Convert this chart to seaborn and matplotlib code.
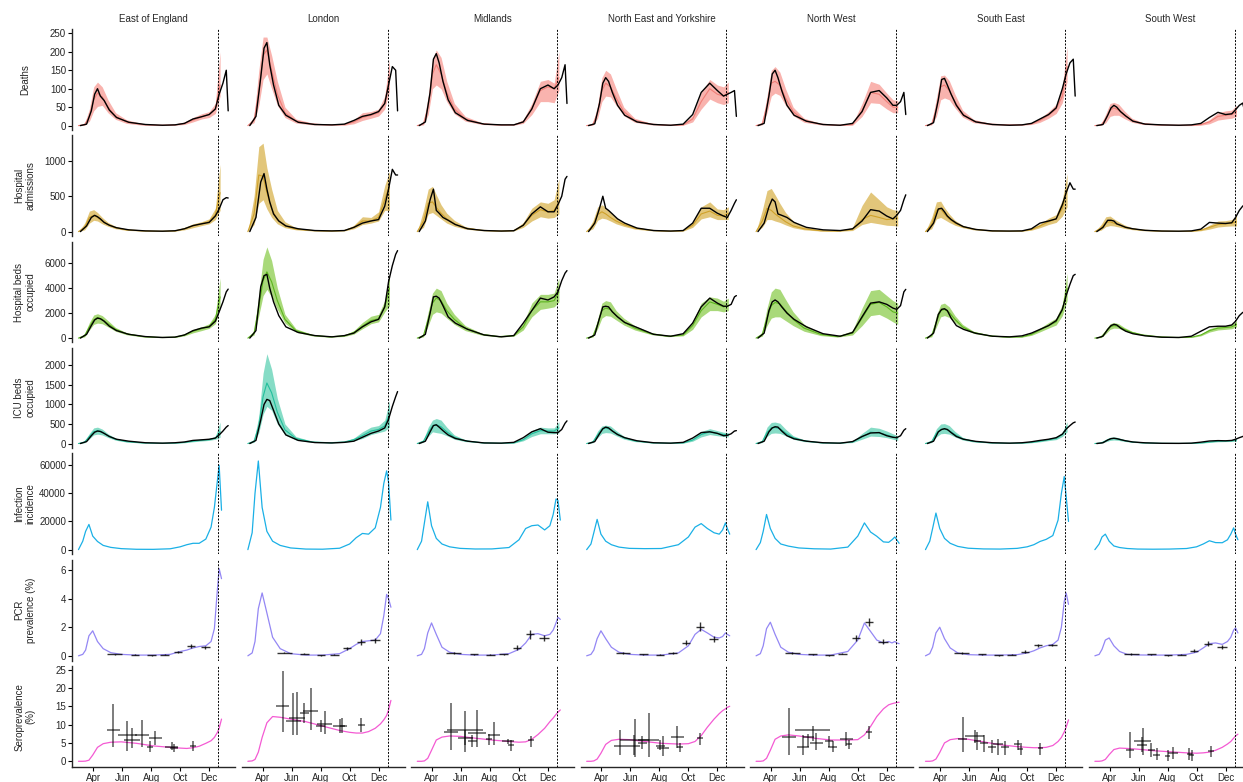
import pandas as pd
import matplotlib
matplotlib.use("Agg")
import matplotlib.pyplot as plt
import matplotlib.dates as mdates
import seaborn as sns

REGIONS = ["East of England", "London", "Midlands", "North East and Yorkshire",
           "North West", "South East", "South West"]

ROW_LABELS = ["Deaths", "Hospital\nadmissions", "Hospital beds\noccupied",
              "ICU beds\noccupied", "Infection\nincidence", "PCR\nprevalence (%)",
              "Seroprevalence\n(%)"]

Y_TICKS = [[0, 50, 100, 150, 200, 250], [0, 500, 1000], [0, 2000, 4000, 6000],
           [0, 500, 1000, 1500, 2000], [0, 20000, 40000, 60000], [0, 2, 4, 6],
           [0, 5, 10, 15, 20, 25]]

CUTOFF = "2020-12-20"

# dates of the model knots (hospital rows), observed series and infection rows
HOSP_DATES = pd.to_datetime([
    "2020-03-01", "2020-03-14", "2020-03-24", "2020-04-02", "2020-04-10", "2020-04-20",
    "2020-05-02", "2020-05-18", "2020-06-10", "2020-07-15", "2020-08-20", "2020-09-20",
    "2020-10-10", "2020-10-28", "2020-11-15", "2020-12-01", "2020-12-14", "2020-12-24"])
OBS_DATES = pd.to_datetime([
    "2020-03-05", "2020-03-18", "2020-03-28", "2020-04-04", "2020-04-10", "2020-04-16",
    "2020-04-24", "2020-05-05", "2020-05-20", "2020-06-15", "2020-07-20", "2020-08-25",
    "2020-09-20", "2020-10-10", "2020-10-28", "2020-11-15", "2020-12-01", "2020-12-14",
    "2020-12-22", "2020-12-30", "2021-01-06", "2021-01-10"])
INF_DATES = pd.to_datetime([
    "2020-03-01", "2020-03-10", "2020-03-16", "2020-03-23", "2020-03-31", "2020-04-10",
    "2020-04-22", "2020-05-08", "2020-05-30", "2020-07-01", "2020-08-05", "2020-09-10",
    "2020-10-01", "2020-10-15", "2020-10-28", "2020-11-10", "2020-11-24", "2020-12-05",
    "2020-12-12", "2020-12-18", "2020-12-22", "2020-12-27"])

# one list per region, in REGIONS order
DEATHS_MED = [
    [0, 3, 25, 70, 88, 78, 50, 25, 10, 3, 1, 2, 6, 15, 24, 30, 45, 110],
    [0, 15, 90, 190, 205, 150, 85, 35, 12, 4, 2, 3, 10, 22, 28, 35, 60, 130],
    [0, 5, 50, 140, 165, 140, 90, 45, 18, 5, 2, 2, 10, 45, 95, 105, 100, 130],
    [0, 3, 35, 95, 115, 105, 75, 38, 14, 4, 1, 2, 18, 65, 100, 85, 80, 90],
    [0, 5, 55, 115, 120, 110, 75, 38, 14, 4, 1, 3, 40, 90, 85, 65, 50, 50],
    [0, 4, 45, 105, 110, 95, 65, 32, 12, 4, 2, 2, 5, 14, 28, 45, 80, 160],
    [0, 2, 18, 42, 48, 42, 28, 14, 5, 2, 1, 1, 3, 10, 25, 28, 30, 38]]
DEATHS_LO = [
    [0, 1, 12, 40, 52, 55, 35, 17, 6, 1, 0, 1, 3, 10, 18, 22, 33, 80],
    [0, 8, 55, 125, 140, 100, 55, 22, 7, 2, 1, 1, 5, 14, 20, 26, 45, 95],
    [0, 2, 30, 100, 110, 100, 65, 32, 12, 3, 1, 1, 6, 30, 65, 65, 62, 95],
    [0, 1, 20, 65, 80, 78, 55, 27, 9, 2, 0, 1, 10, 45, 72, 62, 57, 62],
    [0, 2, 35, 80, 88, 82, 55, 27, 9, 2, 0, 1, 25, 62, 60, 45, 35, 35],
    [0, 2, 25, 70, 75, 70, 48, 23, 8, 2, 1, 1, 3, 9, 20, 33, 62, 120],
    [0, 1, 8, 25, 28, 28, 19, 9, 3, 1, 0, 0, 1, 5, 15, 18, 20, 25]]
DEATHS_HI = [
    [0, 6, 45, 105, 118, 105, 70, 35, 16, 5, 2, 4, 10, 22, 32, 38, 60, 200],
    [0, 25, 150, 240, 240, 190, 120, 50, 18, 7, 3, 5, 16, 35, 38, 45, 80, 180],
    [0, 9, 80, 180, 205, 185, 120, 60, 25, 8, 3, 4, 16, 60, 120, 125, 115, 200],
    [0, 6, 55, 130, 150, 140, 100, 50, 20, 6, 2, 4, 28, 90, 125, 110, 105, 118],
    [0, 9, 80, 150, 160, 145, 100, 50, 20, 6, 2, 5, 60, 120, 112, 88, 70, 68],
    [0, 8, 75, 135, 137, 122, 85, 42, 17, 6, 3, 4, 8, 20, 38, 58, 105, 215],
    [0, 4, 32, 60, 63, 58, 40, 20, 8, 3, 1, 2, 6, 16, 35, 40, 42, 55]]
DEATHS_OBS = [
    [0, 4, 40, 85, 100, 80, 68, 42, 22, 9, 3, 1, 2, 6, 18, 24, 30, 45, 85, 115, 150, 40],
    [0, 25, 130, 210, 225, 165, 110, 55, 28, 9, 3, 2, 4, 14, 25, 30, 38, 60, 110, 160, 150, 40],
    [0, 10, 90, 180, 195, 170, 120, 70, 35, 14, 4, 2, 2, 10, 45, 100, 110, 100, 110, 130, 165, 60],
    [0, 5, 60, 115, 130, 120, 90, 55, 28, 10, 3, 1, 4, 30, 90, 115, 95, 80, 85, 90, 95, 25],
    [0, 6, 80, 140, 150, 130, 95, 55, 28, 12, 3, 1, 6, 38, 90, 95, 75, 55, 55, 65, 90, 30],
    [0, 8, 70, 125, 128, 110, 85, 55, 28, 10, 3, 1, 2, 6, 18, 30, 48, 100, 140, 170, 180, 80],
    [0, 3, 28, 48, 55, 50, 38, 26, 12, 4, 2, 1, 2, 6, 22, 36, 30, 32, 43, 55, 61, 40]]

ADM_MED = [
    [0, 60, 200, 230, 200, 150, 100, 55, 25, 10, 5, 10, 40, 80, 110, 140, 240, 550],
    [0, 250, 800, 780, 550, 320, 170, 80, 35, 15, 8, 15, 60, 150, 150, 200, 450, 650],
    [0, 150, 400, 420, 340, 260, 180, 110, 50, 18, 8, 15, 90, 230, 310, 280, 300, 420],
    [0, 80, 240, 280, 250, 200, 150, 100, 50, 18, 6, 12, 90, 250, 290, 230, 220, 260],
    [0, 150, 330, 300, 250, 200, 140, 80, 40, 12, 6, 30, 170, 230, 200, 170, 180, 190],
    [0, 100, 300, 320, 250, 180, 120, 70, 35, 12, 6, 8, 30, 80, 140, 180, 330, 600],
    [0, 50, 130, 140, 120, 95, 65, 40, 20, 8, 4, 5, 20, 60, 100, 110, 120, 140]]
ADM_LO = [
    [0, 25, 120, 160, 150, 110, 75, 40, 18, 7, 3, 6, 25, 55, 85, 110, 170, 300],
    [0, 100, 400, 450, 320, 200, 110, 55, 25, 10, 5, 10, 40, 100, 120, 150, 300, 300],
    [0, 60, 250, 270, 230, 180, 120, 75, 35, 12, 5, 10, 60, 150, 210, 190, 200, 250],
    [0, 40, 160, 190, 180, 150, 110, 75, 35, 12, 4, 8, 60, 180, 210, 170, 170, 170],
    [0, 60, 170, 170, 150, 130, 95, 55, 25, 8, 4, 15, 100, 130, 110, 90, 85, 80],
    [0, 40, 180, 200, 170, 130, 90, 55, 25, 8, 4, 5, 20, 55, 100, 130, 220, 350],
    [0, 20, 70, 85, 80, 65, 45, 28, 13, 5, 2, 3, 12, 35, 65, 75, 80, 80]]
ADM_HI = [
    [0, 120, 290, 310, 270, 200, 130, 75, 35, 14, 8, 15, 60, 110, 140, 180, 330, 950],
    [0, 500, 1200, 1250, 900, 600, 300, 140, 55, 22, 12, 22, 90, 210, 200, 280, 650, 850],
    [0, 300, 600, 640, 520, 380, 260, 160, 70, 25, 12, 22, 130, 330, 420, 400, 450, 750],
    [0, 150, 350, 380, 340, 270, 200, 135, 65, 25, 9, 18, 130, 350, 420, 320, 310, 350],
    [0, 300, 580, 610, 520, 400, 270, 150, 70, 20, 9, 60, 370, 560, 450, 350, 310, 300],
    [0, 200, 420, 430, 340, 250, 160, 90, 45, 16, 9, 12, 45, 110, 190, 240, 450, 820],
    [0, 100, 210, 220, 180, 140, 95, 55, 28, 11, 6, 8, 30, 90, 150, 155, 170, 230]]
ADM_OBS = [
    [0, 80, 200, 230, 210, 180, 130, 90, 55, 25, 10, 6, 12, 40, 85, 110, 130, 220, 320, 450, 480, 475],
    [0, 200, 700, 820, 600, 420, 250, 150, 80, 40, 15, 10, 15, 60, 120, 150, 170, 360, 600, 880, 800, 800],
    [0, 150, 450, 600, 300, 260, 200, 160, 100, 40, 15, 8, 12, 90, 250, 350, 280, 280, 380, 500, 740, 780],
    [0, 120, 330, 500, 330, 300, 250, 180, 120, 50, 15, 8, 15, 120, 330, 330, 260, 220, 200, 300, 400, 450],
    [0, 120, 350, 460, 420, 250, 230, 200, 130, 60, 25, 15, 40, 150, 310, 290, 220, 180, 230, 300, 450, 520],
    [0, 120, 320, 330, 280, 220, 170, 120, 70, 30, 10, 8, 10, 40, 120, 150, 180, 380, 550, 690, 600, 600],
    [0, 60, 160, 160, 150, 110, 90, 60, 40, 18, 8, 6, 10, 35, 130, 120, 115, 125, 200, 300, 360, 380]]

BEDS_MED = [
    [0, 200, 900, 1450, 1650, 1500, 1150, 700, 350, 120, 50, 70, 250, 550, 750, 950, 1500, 3300],
    [0, 400, 2500, 4600, 5300, 4500, 3000, 1500, 600, 220, 100, 180, 450, 950, 1400, 1550, 2500, 4000],
    [0, 200, 1500, 2800, 3200, 3000, 2200, 1500, 800, 300, 120, 200, 900, 2200, 2900, 2900, 3000, 3700],
    [0, 150, 1100, 2200, 2400, 2300, 1800, 1300, 800, 350, 150, 250, 1000, 2200, 2900, 2700, 2500, 2600],
    [0, 300, 1600, 2600, 2850, 2750, 2200, 1500, 800, 300, 120, 400, 1600, 2700, 2850, 2500, 2100, 2000],
    [0, 200, 1300, 2200, 2300, 2050, 1500, 900, 450, 180, 80, 100, 300, 650, 1000, 1300, 2200, 4000],
    [0, 80, 500, 900, 1000, 950, 700, 450, 250, 100, 50, 70, 250, 600, 800, 850, 900, 1100]]
BEDS_LO = [
    [0, 100, 650, 1100, 1200, 1150, 900, 550, 270, 90, 35, 50, 180, 420, 600, 780, 1150, 2400],
    [0, 250, 1800, 3400, 3900, 3300, 2300, 1200, 480, 170, 70, 130, 320, 750, 1150, 1300, 2100, 2600],
    [0, 100, 1000, 1900, 2100, 2000, 1600, 1100, 600, 230, 90, 150, 650, 1700, 2300, 2400, 2500, 2900],
    [0, 80, 750, 1600, 1800, 1750, 1450, 1050, 650, 280, 110, 180, 700, 1700, 2200, 2200, 2100, 2200],
    [0, 150, 1000, 1600, 1700, 1700, 1400, 1000, 550, 200, 80, 250, 1000, 1800, 1900, 1600, 1300, 1100],
    [0, 100, 900, 1700, 1800, 1650, 1250, 750, 380, 150, 60, 75, 220, 500, 800, 1050, 1800, 3000],
    [0, 40, 350, 700, 800, 780, 580, 380, 210, 80, 35, 50, 180, 480, 650, 700, 750, 900]]
BEDS_HI = [
    [0, 350, 1250, 1850, 1950, 1800, 1400, 850, 430, 150, 70, 100, 330, 700, 900, 1150, 1900, 4800],
    [0, 600, 3500, 6300, 7300, 6200, 4000, 1900, 750, 280, 130, 240, 600, 1250, 1750, 1900, 3000, 5100],
    [0, 350, 2100, 3600, 4000, 3800, 2800, 1900, 1000, 380, 150, 260, 1200, 2800, 3500, 3500, 3600, 4800],
    [0, 250, 1500, 2800, 3000, 2900, 2200, 1600, 1000, 430, 190, 330, 1350, 2800, 3300, 3200, 2950, 3200],
    [0, 500, 2400, 3700, 4000, 3900, 3100, 2100, 1100, 420, 170, 600, 2400, 3800, 3900, 3400, 3000, 2800],
    [0, 350, 1800, 2700, 2800, 2500, 1800, 1100, 550, 220, 100, 130, 400, 800, 1250, 1600, 2700, 5200],
    [0, 130, 700, 1150, 1250, 1150, 850, 550, 300, 130, 65, 90, 320, 750, 950, 1000, 1100, 1400]]
BEDS_OBS = [
    [0, 300, 1000, 1450, 1600, 1550, 1350, 950, 600, 300, 120, 50, 80, 250, 600, 800, 900, 1350, 2100, 2900, 3700, 3920],
    [0, 600, 4100, 5000, 5100, 4000, 2900, 1800, 900, 450, 200, 100, 200, 400, 900, 1300, 1500, 2500, 4500, 5800, 6700, 7000],
    [0, 300, 2000, 3300, 3350, 3200, 2600, 1700, 1200, 700, 250, 100, 200, 1200, 2200, 3200, 3050, 3300, 3700, 4600, 5200, 5400],
    [0, 250, 1600, 2500, 2550, 2500, 2100, 1700, 1250, 850, 300, 150, 350, 1200, 2500, 3200, 2800, 2550, 2550, 2700, 3300, 3400],
    [0, 400, 2200, 2900, 3050, 2900, 2500, 2000, 1500, 900, 350, 150, 450, 1700, 2800, 2900, 2700, 2400, 2300, 2600, 3700, 3900],
    [0, 400, 1900, 2300, 2350, 2200, 1600, 1000, 700, 380, 150, 100, 180, 400, 700, 1000, 1400, 2300, 3400, 4300, 5000, 5100],
    [0, 150, 700, 1000, 1100, 1050, 800, 550, 350, 180, 70, 50, 150, 550, 900, 950, 950, 1050, 1350, 1800, 2050, 2100]]

ICU_MED = [
    [0, 40, 180, 300, 330, 290, 200, 110, 50, 15, 6, 10, 30, 60, 85, 100, 140, 300],
    [0, 60, 450, 1200, 1550, 1300, 800, 350, 130, 40, 20, 40, 100, 200, 320, 360, 450, 750],
    [0, 60, 280, 450, 480, 430, 300, 160, 70, 20, 8, 15, 100, 250, 330, 320, 320, 400],
    [0, 40, 220, 360, 400, 360, 260, 150, 70, 20, 8, 15, 90, 230, 300, 260, 230, 220],
    [0, 50, 280, 400, 410, 380, 270, 150, 70, 20, 8, 40, 170, 290, 270, 220, 170, 140],
    [0, 50, 260, 360, 370, 330, 230, 120, 55, 18, 7, 10, 30, 60, 100, 130, 230, 420],
    [0, 15, 70, 120, 130, 110, 75, 40, 18, 6, 3, 4, 15, 40, 60, 65, 70, 90]]
ICU_LO = [
    [0, 20, 120, 220, 240, 220, 155, 85, 38, 11, 4, 7, 20, 45, 65, 80, 110, 160],
    [0, 30, 280, 750, 950, 850, 500, 220, 90, 28, 14, 28, 70, 130, 230, 280, 320, 420],
    [0, 30, 180, 300, 280, 260, 200, 110, 50, 14, 5, 10, 70, 180, 250, 250, 250, 270],
    [0, 20, 150, 260, 280, 270, 200, 115, 50, 14, 5, 10, 60, 170, 230, 200, 180, 170],
    [0, 25, 180, 260, 270, 260, 200, 110, 50, 14, 5, 25, 110, 190, 180, 150, 110, 80],
    [0, 25, 170, 250, 260, 240, 170, 90, 40, 13, 5, 7, 20, 45, 75, 100, 180, 300],
    [0, 8, 45, 80, 90, 80, 55, 30, 13, 4, 2, 3, 10, 28, 45, 50, 52, 60]]
ICU_HI = [
    [0, 70, 260, 400, 420, 370, 250, 140, 65, 20, 8, 14, 42, 80, 110, 130, 180, 550],
    [0, 100, 700, 1800, 2300, 1900, 1150, 500, 180, 55, 28, 55, 140, 300, 420, 460, 600, 1100],
    [0, 100, 420, 600, 640, 600, 420, 220, 95, 28, 11, 22, 140, 330, 420, 400, 400, 560],
    [0, 70, 320, 450, 470, 450, 330, 190, 90, 28, 11, 22, 130, 310, 380, 330, 290, 280],
    [0, 90, 420, 540, 550, 520, 370, 200, 95, 28, 11, 60, 260, 420, 390, 320, 250, 200],
    [0, 90, 380, 500, 510, 460, 310, 160, 75, 25, 10, 14, 42, 80, 130, 170, 290, 560],
    [0, 25, 110, 160, 170, 150, 100, 55, 25, 8, 4, 6, 22, 55, 80, 85, 95, 130]]
ICU_OBS = [
    [0, 50, 200, 290, 320, 310, 260, 180, 110, 60, 20, 10, 20, 40, 80, 95, 110, 140, 220, 320, 420, 460],
    [0, 80, 600, 1000, 1130, 1100, 850, 500, 220, 80, 25, 15, 30, 60, 160, 260, 320, 400, 620, 950, 1200, 1330],
    [0, 60, 300, 460, 480, 420, 330, 220, 130, 60, 15, 10, 30, 150, 300, 380, 290, 280, 280, 360, 520, 580],
    [0, 50, 250, 380, 420, 400, 320, 230, 150, 70, 20, 10, 30, 140, 280, 300, 260, 200, 210, 250, 320, 330],
    [0, 60, 300, 400, 430, 420, 320, 200, 120, 60, 20, 10, 50, 180, 270, 280, 200, 160, 150, 200, 340, 380],
    [0, 60, 300, 360, 380, 360, 280, 180, 110, 55, 20, 10, 20, 45, 80, 110, 150, 240, 370, 460, 530, 550],
    [0, 20, 90, 125, 135, 125, 100, 70, 40, 18, 6, 4, 10, 35, 65, 75, 70, 80, 110, 150, 180, 200]]

INCIDENCE = [
    [0, 6000, 13000, 17900, 9600, 5800, 3000, 1600, 700, 250, 200, 600, 2000, 3500, 4500, 4500, 7500, 16000, 30000, 48000, 60000, 28000],
    [0, 12000, 40000, 63000, 30000, 13000, 6000, 3000, 1200, 400, 300, 1000, 4000, 8500, 11500, 11000, 15500, 30000, 47000, 56000, 48000, 21000],
    [0, 6000, 19000, 34000, 17000, 8000, 4000, 2000, 900, 450, 500, 1500, 7000, 15000, 17000, 17500, 14000, 17000, 25000, 36000, 35000, 21000],
    [0, 4000, 12000, 21500, 11000, 6000, 3500, 1800, 900, 700, 800, 3500, 9000, 16000, 18500, 15000, 12000, 11000, 14000, 19000, 15000, 11000],
    [0, 5000, 13000, 25000, 15000, 8000, 4000, 2500, 1200, 600, 400, 1800, 9600, 19000, 12500, 9500, 5500, 5200, 7000, 9000, 7000, 4500],
    [0, 6000, 15000, 26000, 15000, 8000, 4500, 2300, 1000, 500, 400, 900, 2000, 3500, 5800, 7300, 10000, 21000, 40000, 52000, 38000, 20000],
    [0, 4000, 9000, 11000, 6000, 2600, 1500, 800, 400, 300, 400, 800, 2000, 4000, 6300, 5000, 4900, 7000, 11000, 15500, 11000, 7000]]

PCR_PREV = [
    [0, 0.1, 0.4, 1.4, 1.75, 1.0, 0.5, 0.22, 0.1, 0.05, 0.05, 0.1, 0.3, 0.4, 0.55, 0.65, 0.7, 1.0, 1.9, 4.5, 6.1, 5.4],
    [0, 0.2, 1.0, 3.3, 4.4, 3.0, 1.3, 0.5, 0.15, 0.05, 0.05, 0.15, 0.5, 0.8, 1.0, 1.05, 1.1, 1.55, 2.8, 4.3, 4.0, 3.4],
    [0, 0.1, 0.5, 1.6, 2.3, 1.5, 0.6, 0.25, 0.1, 0.05, 0.05, 0.15, 0.45, 0.9, 1.5, 1.55, 1.4, 1.5, 1.8, 2.3, 2.7, 2.55],
    [0, 0.1, 0.4, 1.2, 1.75, 1.2, 0.6, 0.25, 0.1, 0.05, 0.05, 0.2, 0.7, 1.5, 1.85, 1.6, 1.3, 1.25, 1.35, 1.6, 1.5, 1.4],
    [0, 0.15, 0.7, 1.9, 2.35, 1.5, 0.6, 0.25, 0.1, 0.05, 0.05, 0.3, 1.1, 2.3, 1.7, 1.1, 0.9, 1.0, 0.9, 1.0, 0.9, 0.85],
    [0, 0.15, 0.6, 1.6, 2.0, 1.2, 0.55, 0.2, 0.08, 0.05, 0.05, 0.08, 0.2, 0.35, 0.55, 0.7, 0.8, 1.1, 2.0, 3.8, 4.4, 3.6],
    [0, 0.1, 0.45, 1.1, 1.25, 0.7, 0.3, 0.1, 0.06, 0.05, 0.05, 0.1, 0.25, 0.55, 0.85, 0.9, 0.8, 1.0, 1.3, 1.8, 1.95, 1.6]]

SERO_PREV = [
    [0, 0, 0.05, 0.3, 1.7, 3.8, 4.8, 5.2, 5.3, 4.9, 4.2, 3.8, 3.6, 3.5, 3.7, 4.1, 4.9, 5.6, 6.5, 7.8, 9.0, 11.5],
    [0, 0.1, 0.5, 2.5, 6.5, 10.5, 12.2, 12.0, 11.5, 10.8, 9.6, 8.4, 7.9, 7.7, 7.7, 8.1, 9.0, 10.2, 11.3, 12.5, 14.0, 16.6],
    [0, 0, 0.1, 0.8, 3.0, 5.8, 6.6, 6.9, 6.8, 6.3, 5.8, 5.4, 5.2, 5.3, 6.0, 7.3, 9.0, 10.8, 11.8, 12.8, 13.4, 14.0],
    [0, 0, 0.1, 0.6, 2.2, 4.6, 5.7, 6.0, 5.9, 5.4, 4.9, 4.7, 4.8, 5.4, 7.0, 9.3, 11.5, 13.0, 13.8, 14.3, 14.7, 15.0],
    [0, 0, 0.1, 0.8, 3.0, 6.0, 6.9, 7.2, 6.9, 6.3, 5.8, 5.8, 5.9, 7.2, 9.5, 12.2, 14.3, 15.4, 15.7, 15.9, 16.0, 16.1],
    [0, 0, 0.1, 0.6, 2.4, 5.0, 5.9, 6.2, 6.0, 5.3, 4.5, 4.0, 3.8, 3.7, 3.7, 3.8, 4.3, 5.4, 6.5, 8.0, 9.3, 11.3],
    [0, 0, 0.1, 0.5, 1.8, 3.2, 3.6, 3.5, 3.3, 2.9, 2.6, 2.3, 2.2, 2.3, 2.5, 3.0, 3.8, 4.7, 5.4, 6.3, 6.9, 7.4]]

# PCR survey rounds: sampling windows, estimates (%) and CI half-widths
PCR_START = pd.to_datetime(["2020-05-01", "2020-06-19", "2020-07-24", "2020-08-20",
                            "2020-09-18", "2020-10-16", "2020-11-13"])
PCR_END = pd.to_datetime(["2020-06-01", "2020-07-07", "2020-08-11", "2020-09-08",
                          "2020-10-05", "2020-11-02", "2020-12-03"])
PCR_OBS = [
    [0.12, 0.07, 0.05, 0.07, 0.3, 0.7, 0.6],
    [0.23, 0.16, 0.05, 0.09, 0.53, 0.97, 1.1],
    [0.19, 0.12, 0.07, 0.12, 0.58, 1.5, 1.23],
    [0.19, 0.12, 0.07, 0.19, 0.93, 2.04, 1.16],
    [0.19, 0.1, 0.05, 0.16, 1.23, 2.36, 1.0],
    [0.19, 0.1, 0.05, 0.09, 0.3, 0.74, 0.76],
    [0.12, 0.1, 0.05, 0.09, 0.35, 0.86, 0.6]]
PCR_ERR = [
    [0.04, 0.03, 0.03, 0.03, 0.07, 0.12, 0.1],
    [0.06, 0.05, 0.03, 0.04, 0.12, 0.18, 0.18],
    [0.05, 0.04, 0.03, 0.04, 0.15, 0.3, 0.2],
    [0.05, 0.04, 0.03, 0.05, 0.2, 0.3, 0.2],
    [0.05, 0.04, 0.03, 0.05, 0.2, 0.3, 0.15],
    [0.05, 0.04, 0.03, 0.04, 0.08, 0.12, 0.1],
    [0.05, 0.04, 0.03, 0.04, 0.1, 0.15, 0.15]]

# serology surveys: centre date, estimate, CI and half window (days)
SERO_DATES = [
    ["2020-05-13", "2020-06-12", "2020-06-22", "2020-07-12", "2020-07-30", "2020-08-10", "2020-09-13", "2020-09-18", "2020-10-28"],
    ["2020-05-13", "2020-06-05", "2020-06-12", "2020-06-28", "2020-07-11", "2020-08-01", "2020-08-10", "2020-09-11", "2020-09-16", "2020-10-26"],
    ["2020-05-11", "2020-06-09", "2020-06-10", "2020-06-25", "2020-07-05", "2020-07-30", "2020-08-10", "2020-09-08", "2020-09-14", "2020-10-26"],
    ["2020-05-11", "2020-06-10", "2020-06-08", "2020-06-26", "2020-07-10", "2020-08-03", "2020-08-09", "2020-09-08", "2020-09-13", "2020-10-25"],
    ["2020-05-10", "2020-06-08", "2020-06-19", "2020-06-28", "2020-07-06", "2020-08-01", "2020-08-09", "2020-09-07", "2020-09-12", "2020-10-25"],
    ["2020-05-18", "2020-06-13", "2020-06-18", "2020-07-02", "2020-07-19", "2020-08-01", "2020-08-15", "2020-09-12", "2020-09-17", "2020-10-29"],
    ["2020-05-14", "2020-06-10", "2020-06-08", "2020-06-28", "2020-07-09", "2020-08-01", "2020-08-12", "2020-09-16", "2020-09-21", "2020-10-31"]]
SERO_VAL = [
    [8.6, 7.2, 5.8, 7.2, 4.0, 6.3, 3.8, 3.7, 4.2],
    [15.0, 10.9, 11.8, 13.1, 13.6, 9.7, 10.2, 9.5, 9.7, 9.8],
    [7.9, 8.6, 6.3, 5.6, 7.8, 6.0, 7.2, 5.4, 4.5, 5.7],
    [4.2, 5.8, 4.2, 5.1, 5.8, 4.2, 3.6, 6.6, 3.8, 6.3],
    [6.5, 3.8, 6.6, 8.4, 5.1, 5.6, 3.8, 6.2, 4.7, 8.1],
    [6.2, 6.9, 5.4, 4.9, 3.8, 4.7, 4.0, 4.7, 3.3, 3.6],
    [3.1, 5.4, 4.5, 3.1, 1.7, 1.5, 2.2, 2.0, 1.7, 2.8]]
SERO_LO = [
    [4.0, 2.9, 3.6, 4.0, 2.6, 4.5, 3.0, 2.4, 2.8],
    [8.1, 7.2, 7.2, 10.4, 8.6, 8.0, 7.5, 7.8, 7.6, 7.9],
    [3.1, 2.4, 4.5, 3.8, 3.8, 4.5, 4.5, 4.8, 2.9, 3.8],
    [1.7, 1.1, 1.7, 3.3, 1.3, 3.1, 1.5, 3.6, 2.6, 4.5],
    [1.7, 1.7, 3.8, 5.4, 3.1, 3.8, 2.4, 4.2, 3.3, 6.1],
    [2.6, 5.0, 3.1, 2.6, 2.2, 1.7, 1.7, 3.1, 1.7, 1.7],
    [0.8, 1.7, 2.4, 1.3, 0.4, 0.0, 0.6, 0.4, 0.0, 1.3]]
SERO_HI = [
    [15.5, 11.0, 9.0, 11.3, 5.4, 8.3, 5.2, 4.8, 5.6],
    [24.5, 18.5, 19.0, 15.9, 20.1, 11.2, 13.6, 11.5, 11.8, 11.7],
    [15.9, 13.6, 8.5, 7.3, 13.9, 7.5, 10.7, 6.0, 5.8, 6.9],
    [8.6, 11.5, 7.2, 6.9, 13.1, 5.8, 6.9, 9.5, 5.1, 7.7],
    [14.5, 7.2, 7.5, 9.7, 7.8, 6.9, 5.4, 8.1, 5.8, 9.7],
    [12.2, 8.6, 8.1, 7.2, 5.8, 6.2, 5.4, 5.8, 4.5, 4.9],
    [7.9, 9.0, 6.5, 4.9, 3.5, 3.2, 4.0, 3.5, 3.1, 4.2]]
SERO_HW = [
    [14, 20, 17, 15, 6, 14, 13, 8, 7],
    [14, 15, 17, 9, 15, 10, 16, 14, 5, 7],
    [14, 38, 16, 10, 19, 7, 13, 12, 7, 7],
    [14, 30, 14, 10, 22, 9, 12, 13, 6, 6],
    [15, 12, 12, 37, 14, 8, 10, 14, 6, 6],
    [9, 20, 7, 9, 9, 10, 9, 8, 6, 6],
    [9, 18, 10, 7, 7, 6, 11, 6, 5, 6]]

# ---- styles / layout ----
BAND_COLORS = ["#f9b3ae", "#e2c67a", "#a9d97a", "#86dcc6"]
MED_COLORS = ["#f07e77", "#cfa12a", "#5cb51e", "#22bf9c"]
INC_COLOR = "#1ab0e6"
PCR_COLOR = "#9487f4"
SERO_COLOR = "#f45ad3"
Y_LIMS = [(-12.7, 261), (-62, 1365), (-352, 7730), (-127, 2458),
          (-3320, 68470), (-0.35, 6.72), (-1.64, 25.9)]

W, H = 1243, 782
ROW_TOP = [29.3, 135.0, 241.5, 347.5, 453.3, 559.8, 666.3]
ROW_H = 101.0
COL_LEFT0, COL_STEP, COL_W = 72.3, 169.4, 163.0
XMIN, XMAX = pd.Timestamp("2020-02-17"), pd.Timestamp("2021-01-25")

sns.set_style("ticks")
plt.rcParams["font.family"] = ["Liberation Sans", "DejaVu Sans"]
plt.rcParams["axes.linewidth"] = 1.0

fig = plt.figure(figsize=(W / 100, H / 100), dpi=100)

model_rows = [(DEATHS_LO, DEATHS_MED, DEATHS_HI, DEATHS_OBS),
              (ADM_LO, ADM_MED, ADM_HI, ADM_OBS),
              (BEDS_LO, BEDS_MED, BEDS_HI, BEDS_OBS),
              (ICU_LO, ICU_MED, ICU_HI, ICU_OBS)]

for r in range(7):
    for c, region in enumerate(REGIONS):
        left = COL_LEFT0 + c * COL_STEP
        ax = fig.add_axes([left / W, 1 - (ROW_TOP[r] + ROW_H) / H, COL_W / W, ROW_H / H])

        if r < 4:
            lo, med, hi, obs = model_rows[r]
            ax.fill_between(HOSP_DATES, lo[c], hi[c], color=BAND_COLORS[r], lw=0)
            sns.lineplot(x=HOSP_DATES, y=med[c], ax=ax, color=MED_COLORS[r], lw=0.8, errorbar=None)
            sns.lineplot(x=OBS_DATES, y=obs[c], ax=ax, color="black", lw=1.0, errorbar=None)
        elif r == 4:
            sns.lineplot(x=INF_DATES, y=INCIDENCE[c], ax=ax, color=INC_COLOR, lw=0.9, errorbar=None)
        elif r == 5:
            sns.lineplot(x=INF_DATES, y=PCR_PREV[c], ax=ax, color=PCR_COLOR, lw=0.9, errorbar=None)
            mid = PCR_START + (PCR_END - PCR_START) / 2
            vals = pd.Series(PCR_OBS[c])
            err = pd.Series(PCR_ERR[c])
            ax.hlines(vals, PCR_START, PCR_END, color="black", lw=1.0, alpha=0.8)
            ax.vlines(mid, vals - err, vals + err, color="black", lw=1.0, alpha=0.8)
        else:
            sns.lineplot(x=INF_DATES, y=SERO_PREV[c], ax=ax, color=SERO_COLOR, lw=0.9, errorbar=None)
            centre = pd.to_datetime(SERO_DATES[c])
            hw = pd.to_timedelta(SERO_HW[c], unit="D")
            ax.hlines(SERO_VAL[c], centre - hw, centre + hw, color="black", lw=1.2, alpha=0.6)
            ax.vlines(centre, SERO_LO[c], SERO_HI[c], color="black", lw=1.2, alpha=0.6)

        ax.axvline(pd.Timestamp(CUTOFF), color="black", lw=0.7, ls=(0, (2, 1.5)))

        ax.set_xlim(XMIN, XMAX)
        ax.set_ylim(*Y_LIMS[r])
        ax.set_xlabel("")
        ax.set_ylabel("")
        for s in ("top", "right"):
            ax.spines[s].set_visible(False)
        ax.spines["left"].set_visible(c == 0)
        ax.spines["bottom"].set_visible(r == 6)

        ax.set_yticks(Y_TICKS[r])
        ax.set_yticklabels([str(t) for t in Y_TICKS[r]])
        ax.xaxis.set_major_locator(mdates.MonthLocator(bymonth=[4, 6, 8, 10, 12]))
        ax.xaxis.set_major_formatter(mdates.DateFormatter("%b"))
        ax.tick_params(axis="both", labelsize=7, length=3, width=0.8, color="black")
        ax.tick_params(axis="y", pad=1.5)
        ax.tick_params(axis="x", pad=0.8)
        if c != 0:
            ax.tick_params(axis="y", left=False, labelleft=False)
        if r != 6:
            ax.tick_params(axis="x", bottom=False, labelbottom=False)

        if r == 0:
            ax.set_title(region, fontsize=7, pad=5)

    fig.text(25 / W, 1 - (ROW_TOP[r] + ROW_H / 2) / H, ROW_LABELS[r], rotation=90,
             ha="center", va="center", fontsize=7, multialignment="center")

fig.savefig("out.png", dpi=100)
